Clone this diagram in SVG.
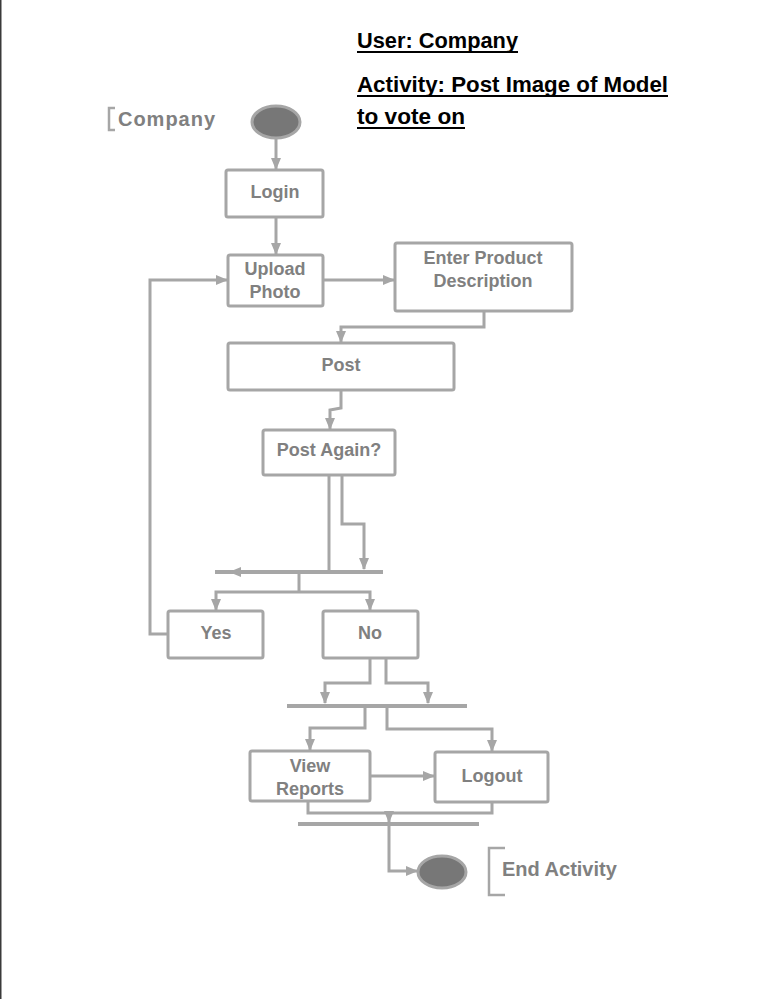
<svg xmlns="http://www.w3.org/2000/svg" width="775" height="999" viewBox="0 0 775 999">
<style>
.box{fill:#fff;stroke:#a6a6a6;stroke-width:3}
.lbl{font-family:"Liberation Sans",Arial,sans-serif;font-weight:bold;font-size:18px;fill:#808080;text-anchor:middle}
.big{font-family:"Liberation Sans",Arial,sans-serif;font-weight:bold;font-size:20px;fill:#808080}
.hdr{font-family:"Liberation Sans",Arial,sans-serif;font-weight:bold;font-size:22px;fill:#000}
.ln{fill:none;stroke:#a6a6a6;stroke-width:3}
.bar{fill:none;stroke:#a6a6a6;stroke-width:4}
.arr{marker-end:url(#ah)}
.dot{fill:#777;stroke:#a6a6a6;stroke-width:3}
</style>
<defs>
<marker id="ah" markerUnits="userSpaceOnUse" markerWidth="12" markerHeight="10" refX="11" refY="5" orient="auto">
<path d="M0,0 L12,5 L0,10 Z" fill="#a6a6a6"/>
</marker>
</defs>
<rect x="0" y="0" width="775" height="999" fill="#fff"/>
<rect x="0" y="0" width="1.5" height="999" fill="#3a3a3a"/>

<g id="header">
<text class="hdr" x="357" y="48" textLength="161" lengthAdjust="spacingAndGlyphs">User: Company</text>
<line x1="357" y1="52" x2="518" y2="52" stroke="#000" stroke-width="2"/>
<text class="hdr" x="357" y="92" textLength="311" lengthAdjust="spacingAndGlyphs">Activity: Post Image of Model</text>
<line x1="357" y1="96" x2="668" y2="96" stroke="#000" stroke-width="2"/>
<text class="hdr" x="357" y="124" textLength="108" lengthAdjust="spacingAndGlyphs">to vote on</text>
<line x1="357" y1="128" x2="465" y2="128" stroke="#000" stroke-width="2"/>
</g>

<g id="company-label">
<path d="M115,108 L109,108 L109,130 L115,130" fill="none" stroke="#a6a6a6" stroke-width="2.5"/>
<text class="big" x="118" y="126" textLength="97">Company</text>
</g>

<g id="start"><ellipse class="dot" cx="276" cy="122" rx="24" ry="16"/></g>

<g id="login"><rect class="box" x="226" y="170" width="97" height="47" rx="2"/><text class="lbl" x="275" y="198">Login</text></g>

<g id="upload"><rect class="box" x="228" y="255" width="95" height="51" rx="2"/><text class="lbl" x="275" y="275">Upload</text><text class="lbl" x="275" y="298">Photo</text></g>

<g id="enter"><rect class="box" x="395" y="243" width="177" height="68" rx="2"/><text class="lbl" x="483" y="264">Enter Product</text><text class="lbl" x="483" y="287">Description</text></g>

<g id="post"><rect class="box" x="228" y="343" width="226" height="47" rx="2"/><text class="lbl" x="341" y="371">Post</text></g>

<g id="postagain"><rect class="box" x="263" y="430" width="132" height="45" rx="2"/><text class="lbl" x="329" y="456">Post Again?</text></g>

<g id="yes"><rect class="box" x="168" y="611" width="95" height="47" rx="2"/><text class="lbl" x="216" y="639">Yes</text></g>

<g id="no"><rect class="box" x="323" y="611" width="95" height="47" rx="2"/><text class="lbl" x="370" y="639">No</text></g>

<g id="viewreports"><rect class="box" x="250" y="751" width="120" height="50" rx="2"/><text class="lbl" x="310" y="772">View</text><text class="lbl" x="310" y="795">Reports</text></g>

<g id="logout"><rect class="box" x="435" y="752" width="113" height="50" rx="2"/><text class="lbl" x="492" y="782">Logout</text></g>

<g id="end"><ellipse class="dot" cx="442" cy="872" rx="24" ry="16"/></g>

<g id="end-label">
<path d="M505,848 L489,848 L489,895 L505,895" fill="none" stroke="#a6a6a6" stroke-width="2.5"/>
<text class="big" x="502" y="876">End Activity</text>
</g>

<g id="bars">
<line class="bar" x1="215" y1="572" x2="383" y2="572"/>
<line class="bar" x1="287" y1="706" x2="467" y2="706"/>
<line class="bar" x1="298" y1="824" x2="479" y2="824"/>
</g>

<g id="connectors">
<path class="ln arr" d="M276,138 L276,169"/>
<path class="ln arr" d="M276,217 L276,254"/>
<path class="ln arr" d="M323,280 L394,280"/>
<path class="ln arr" d="M484,311 L484,327 L341,327 L341,342"/>
<path class="ln arr" d="M341,390 L341,408 L330,410 L330,429"/>
<path class="ln" d="M329,475 L329,572"/>
<path class="ln arr" d="M342,475 L342,524 L364,524 L364,569"/>
<path class="ln arr" d="M300,572 L230,572"/>
<path class="ln" d="M299,572 L299,592"/>
<path class="ln arr" d="M299,592 L216,592 L216,610"/>
<path class="ln arr" d="M299,592 L370,592 L370,610"/>
<path class="ln arr" d="M168,634 L150,634 L150,280 L227,280"/>
<path class="ln arr" d="M370,658 L370,683 L325,683 L325,703"/>
<path class="ln arr" d="M386,658 L386,683 L428,683 L428,703"/>
<path class="ln arr" d="M365,706 L365,728 L310,728 L310,750"/>
<path class="ln arr" d="M387,706 L387,729 L492,729 L492,751"/>
<path class="ln arr" d="M370,776 L434,776"/>
<path class="ln" d="M308,801 L308,813 L492,813 L492,802"/>
<path class="ln arr" d="M389,812 L389,822"/>
<path class="ln arr" d="M389,824 L389,871 L417,871"/>
</g>
</svg>
